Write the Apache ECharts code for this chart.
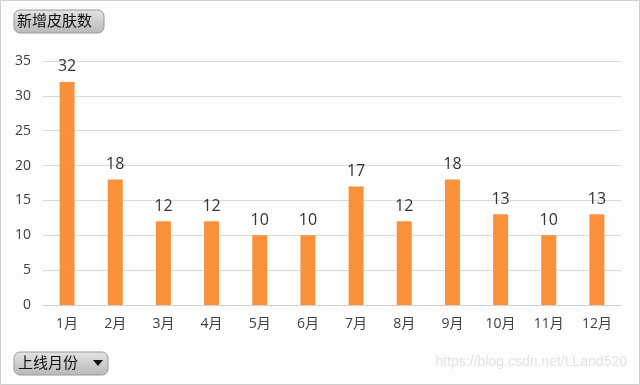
<!DOCTYPE html>
<html><head><meta charset="utf-8">
<script src="https://cdn.jsdelivr.net/npm/echarts@6/dist/echarts.min.js"></script>
<style>html,body{margin:0;padding:0;background:#fff}#c{width:640px;height:385px}</style>
</head><body><div id="c"></div>
<script>
const categories = ['1月','2月','3月','4月','5月','6月','7月','8月','9月','10月','11月','12月'];
const skinCounts = [32,18,12,12,10,10,17,12,18,13,10,13];
const seriesName = '新增皮肤数';
const filterName = '上线月份';
const watermark = 'https://blog.csdn.net/LLand520';

const font = '"Open Sans", "Noto Sans CJK SC", sans-serif';
const chart = echarts.init(document.getElementById('c'), null, {renderer:'canvas'});
const btnFill = new echarts.graphic.LinearGradient(0,0,0,1,[{offset:0,color:'#e4e4e4'},{offset:1,color:'#b8b8b8'}]);
chart.setOption({
  backgroundColor:'#fdfdfe',
  animation:false,
  grid:{left:43, right:19, top:61, bottom:80},
  xAxis:{type:'category', data:categories,
    axisLine:{lineStyle:{color:'#d0d0d0'}}, axisTick:{show:false},
    axisLabel:{color:'#404040', fontSize:14, fontFamily:font, margin:12}},
  yAxis:{type:'value', min:0, max:35, interval:5,
    axisLine:{show:false}, axisTick:{show:false},
    splitLine:{lineStyle:{color:'#d9d9d9'}},
    axisLabel:{color:'#404040', fontSize:14, fontFamily:font, margin:12}},
  series:[{name:seriesName, type:'bar', data:skinCounts, barWidth:15,
    itemStyle:{color:'#F8913A'},
    label:{show:true, position:'top', distance:7, color:'#333', fontSize:16, fontFamily:font}}],
  graphic:[
    {type:'rect', shape:{x:0.5,y:0.5,width:639,height:384}, style:{fill:'none', stroke:'#cfcfcf', lineWidth:1}, silent:true},
    {type:'rect', shape:{x:14,y:10,width:90,height:23,r:6}, style:{fill:btnFill, stroke:'#9a9a9a', lineWidth:1}},
    {type:'text', x:17, y:21.5, style:{text:seriesName, font:'15px '+font, fill:'#111', verticalAlign:'middle'}},
    {type:'rect', shape:{x:14,y:352,width:94,height:23,r:6}, style:{fill:btnFill, stroke:'#9a9a9a', lineWidth:1}},
    {type:'text', x:18, y:363.5, style:{text:filterName, font:'15px '+font, fill:'#111', verticalAlign:'middle'}},
    {type:'polygon', shape:{points:[[93,360],[103,360],[98,366]]}, style:{fill:'#111'}},
    {type:'text', x:627, y:362, style:{text:watermark, font:'14px Arial, "Liberation Sans", sans-serif', fill:'rgba(215,215,215,0.7)', align:'right', verticalAlign:'middle'}}
  ]
});
</script></body></html>
